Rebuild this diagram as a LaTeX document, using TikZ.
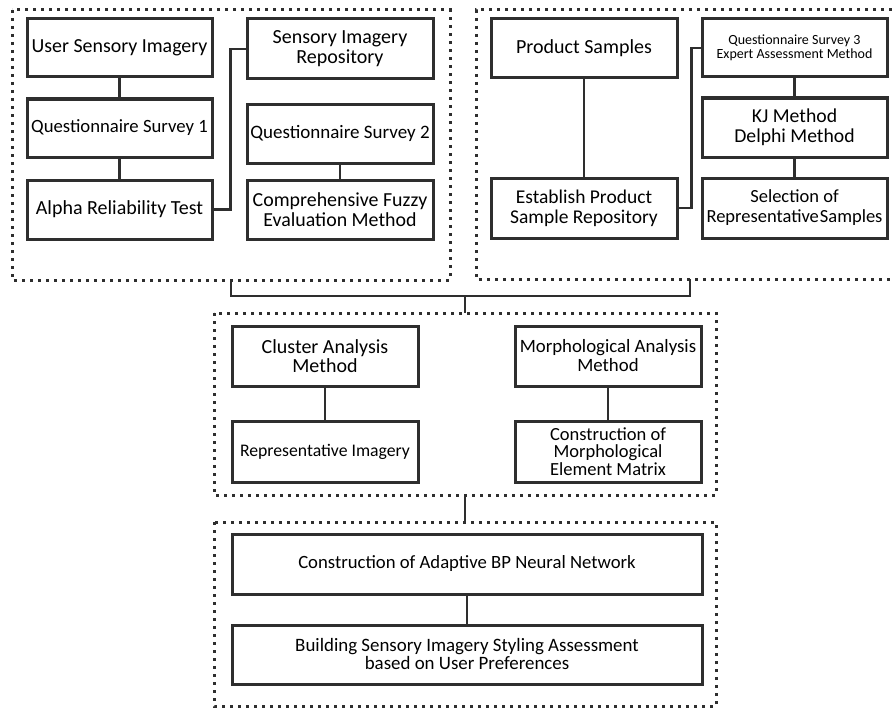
\documentclass[tikz,border=0pt]{standalone}
\usepackage{fontspec}
\setmainfont{Carlito}
\definecolor{ink}{HTML}{2E2E2E}
\newcommand{\fs}[2]{\fontsize{#1}{#2}\selectfont}
\begin{document}
\begin{tikzpicture}[x=1pt,y=-1pt,
  box/.style={draw=ink,line width=3pt,fill=white,inner sep=0pt,align=center,text=black,font=\fs{20}{20}},
  conn/.style={draw=ink,line width=2.8pt},
  group/.style={draw=ink,line width=3pt,dash pattern=on 3pt off 5pt}]
\useasboundingbox (0,0) rectangle (892,709);
% dashed groups
\draw[group] (12,10) rectangle (450,280);
\draw[group] (892,10) -- (476,10) -- (476,279) -- (892,279);
\draw[group] (214,313) rectangle (716,495);
\draw[group] (214,522) rectangle (716,706);
% top-left
\node[box,minimum width=185pt,minimum height=58pt,font=\fs{19.9}{20}] (usi) at (119.5,48) {User Sensory Imagery};
\node[box,minimum width=185pt,minimum height=58pt,font=\fs{18.7}{20}] (qs1) at (119.5,128) {Questionnaire Survey 1};
\node[box,minimum width=185pt,minimum height=59pt] (alpha) at (119.5,209.5) {Alpha Reliability Test};
\node[box,minimum width=186pt,minimum height=60pt] (sir) at (340,49) {Sensory Imagery\\Repository};
\node[box,minimum width=186pt,minimum height=59pt,font=\fs{19}{20}] (qs2) at (340,133.5) {Questionnaire Survey 2};
\node[box,minimum width=186pt,minimum height=59pt,font=\fs{19.9}{20}] (cfe) at (340,209.5) {Comprehensive Fuzzy\\Evaluation Method};
\draw[conn] (usi) -- (qs1);
\draw[conn] (qs1) -- (alpha);
\draw[conn] (qs2) -- (cfe);
\draw[conn] (alpha.east) -- ++(17,0) |- (sir.west);
% top-right
\node[box,minimum width=186pt,minimum height=59pt] (ps) at (584,48.5) {Product Samples};
\node[box,minimum width=186pt,minimum height=60pt,font=\fs{19.5}{20}] (eps) at (584,208) {Establish Product\\Sample Repository};
\node[box,minimum width=185pt,minimum height=58pt,font=\fs{14}{14.5}] (qs3) at (794.5,48) {Questionnaire Survey 3\\Expert Assessment Method};
\node[box,minimum width=185pt,minimum height=59pt,font=\fs{19.7}{20}] (kj) at (794.5,127.5) {KJ Method\\Delphi Method};
\node[box,minimum width=185pt,minimum height=60pt,font=\fs{18.5}{20}] (sel) at (794.5,208) {Selection of\\Representative\kern1pt Samples};
\draw[conn] (ps) -- (eps);
\draw[conn] (qs3) -- (kj);
\draw[conn] (kj) -- (sel);
\draw[conn] (eps.east) -- ++(13,0) |- (qs3.west);
% bracket
\coordinate (tlb) at (231,280);
\coordinate (trb) at (690,279);
\coordinate (brk) at (465,296);
\coordinate (midt) at (465,313);
\draw[conn] (tlb) |- (brk) -| (trb);
\draw[conn] (brk) -- (midt);
% middle
\node[box,minimum width=186pt,minimum height=60pt,font=\fs{20}{19.5}] (cam) at (325,356) {Cluster Analysis\\Method};
\node[box,minimum width=186pt,minimum height=61pt,font=\fs{17.7}{18}] (ri) at (325,451.5) {Representative Imagery};
\node[box,minimum width=186pt,minimum height=60pt,font=\fs{18.8}{19}] (mam) at (608,356) {Morphological Analysis\\Method};
\node[box,minimum width=186pt,minimum height=61pt,font=\fs{18.5}{17.5}] (cmem) at (608,451.5) {Construction of\\Morphological\\Element Matrix};
\draw[conn] (cam) -- (ri);
\draw[conn] (mam) -- (cmem);
% middle to bottom
\coordinate (midb) at (465,495);
\coordinate (bott) at (465,522);
\draw[conn] (midb) -- (bott);
% bottom
\node[box,minimum width=470pt,minimum height=60pt,font=\fs{18.7}{19}] (bp) at (467,564) {Construction of Adaptive BP Neural Network};
\node[box,minimum width=470pt,minimum height=59pt,font=\fs{18.9}{18}] (bsi) at (467,654.5) {Building Sensory Imagery Styling Assessment\\based on User Preferences};
\draw[conn] (bp) -- (bsi);
\end{tikzpicture}
\end{document}
